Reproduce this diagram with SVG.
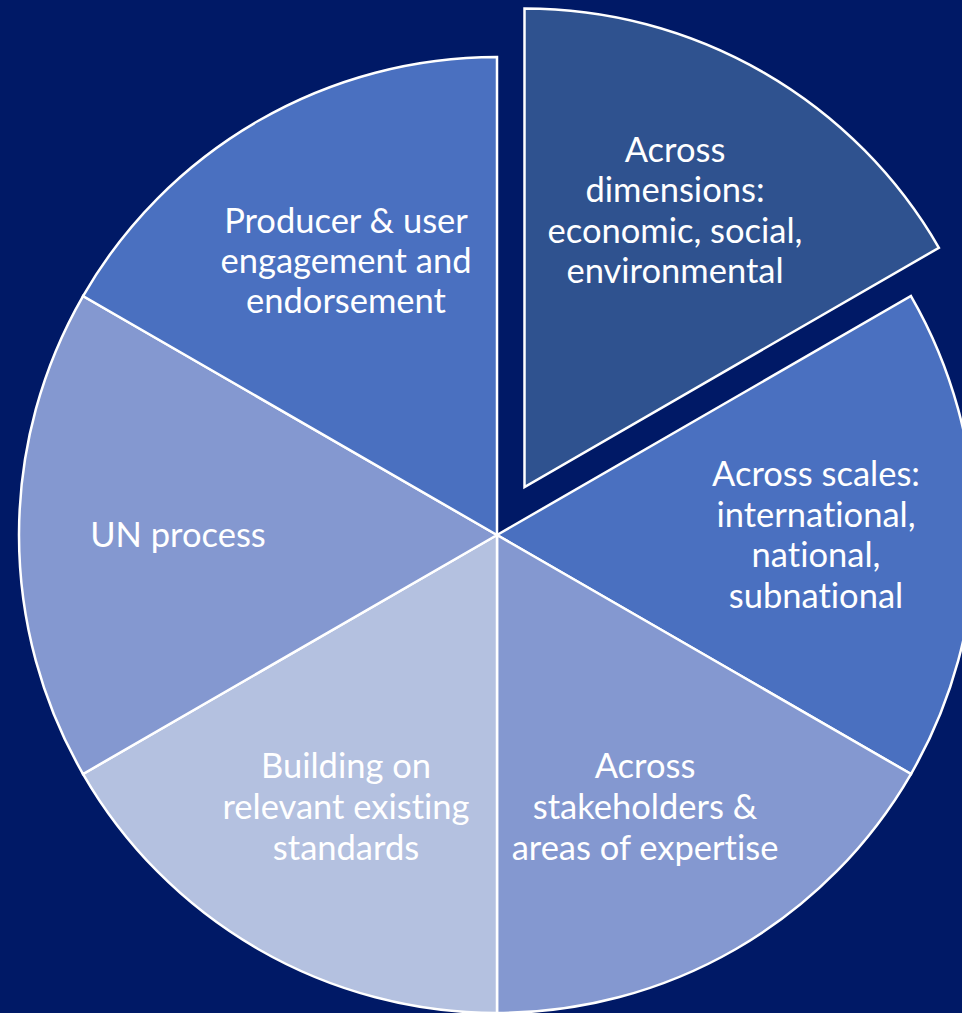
<svg xmlns="http://www.w3.org/2000/svg" width="962" height="1013" viewBox="0 0 962 1013">
<style>
.s{stroke:#ffffff;stroke-width:2.5;stroke-linejoin:miter}
.t{font-family:Lato,"Liberation Sans",sans-serif;font-size:34.5px;fill:#ffffff;text-anchor:middle;font-variant-ligatures:none;font-feature-settings:"liga" 0}
</style>
<rect width="962" height="1013" fill="#001966"/>
<g id="slice-dimensions">
<path class="s" fill="#2F528F" d="M524.5,487 L524.5,8.5 A478.5,478.5 0 0 1 938.9,247.8 Z"/>
<text class="t" x="675" y="162">Across</text>
<text class="t" x="675" y="202">dimensions:</text>
<text class="t" x="675" y="243">economic, social,</text>
<text class="t" x="675" y="283">environmental</text>
</g>
<g id="slice-scales">
<path class="s" fill="#4A70C0" d="M497,535 L910.96,296 A478,478 0 0 1 910.96,774 Z"/>
<text class="t" x="816" y="486">Across scales:</text>
<text class="t" x="816" y="527">international,</text>
<text class="t" x="816" y="567">national,</text>
<text class="t" x="816" y="608">subnational</text>
</g>
<g id="slice-stakeholders">
<path class="s" fill="#8498D0" d="M497,535 L910.96,774 A478,478 0 0 1 497,1013 Z"/>
<text class="t" x="645" y="778">Across</text>
<text class="t" x="645" y="819">stakeholders &amp;</text>
<text class="t" x="645" y="860">areas of expertise</text>
</g>
<g id="slice-standards">
<path class="s" fill="#B4C1E0" d="M497,535 L497,1013 A478,478 0 0 1 83.04,774 Z"/>
<text class="t" x="346" y="778">Building on</text>
<text class="t" x="346" y="819">relevant existing</text>
<text class="t" x="346" y="860">standards</text>
</g>
<g id="slice-un">
<path class="s" fill="#8498D0" d="M497,535 L83.04,774 A478,478 0 0 1 83.04,296 Z"/>
<text class="t" x="178" y="547">UN process</text>
</g>
<g id="slice-engagement">
<path class="s" fill="#4A70C0" d="M497,535 L83.04,296 A478,478 0 0 1 497,57 Z"/>
<text class="t" x="346" y="233">Producer &amp; user</text>
<text class="t" x="346" y="273">engagement and</text>
<text class="t" x="346" y="313">endorsement</text>
</g>
<g id="connectors"/>
</svg>
